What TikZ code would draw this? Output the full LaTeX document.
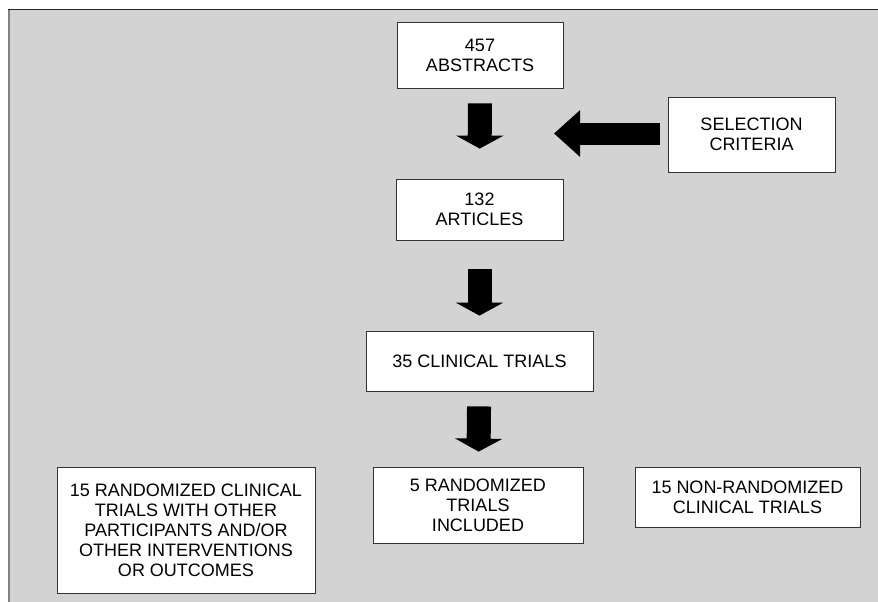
\documentclass[tikz,border=0pt]{standalone}
\usepackage{fontspec}
\setmainfont{Liberation Sans}
\usetikzlibrary{arrows.meta}
\definecolor{bggray}{HTML}{D3D3D3}
\begin{document}
\begin{tikzpicture}[x=1pt,y=-1pt,
	box/.style={draw=black!80,fill=white,line width=.8pt,align=center,inner sep=0pt,font=\fontsize{18}{20}\selectfont},
	downarrow/.style={line width=24pt,-{Triangle[width=47pt,length=13pt]}},
	leftarrow/.style={line width=22pt,-{Triangle[width=45pt,length=26pt]}}]
	\useasboundingbox(0,0)rectangle(878,602);
	\fill[bggray](9,10)rectangle(878,602);
	\draw[black!50,line width=1.2pt](9,602)--(9,10);
	\draw[black!85,line width=1pt](8.4,10)--(878,10);
	\node[box,minimum width=166pt,minimum height=66pt](abs)at(480,55){457\\ABSTRACTS};
	\node[box,minimum width=167pt,minimum height=75pt](sel)at(751.5,134.5){SELECTION\\CRITERIA};
	\node[box,minimum width=167pt,minimum height=61pt](art)at(479.5,209.5){132\\ARTICLES};
	\node[box,minimum width=227pt,minimum height=60pt](ct)at(479.5,361){35 CLINICAL TRIALS};
	\node[box,minimum width=210pt,minimum height=76pt](inc)at(478,505){5 RANDOMIZED\\TRIALS\\INCLUDED};
	\node[box,minimum width=225pt,minimum height=60pt](non)at(747.5,497){15 NON-RANDOMIZED\\CLINICAL TRIALS};
	\node[box,minimum width=258pt,minimum height=126pt](oth)at(186,530){15 RANDOMIZED CLINICAL\\TRIALS WITH OTHER\\PARTICIPANTS AND/OR\\OTHER INTERVENTIONS\\OR OUTCOMES};
	\coordinate(seltip)at(554,133.5);
	\draw[downarrow,shorten <=15pt,shorten >=30pt](abs)--(art);
	\draw[downarrow,shorten <=29pt,shorten >=15pt](art)--(ct);
	\draw[downarrow,shorten <=15pt,shorten >=15pt](ct)--(inc);
	\draw[leftarrow,shorten <=8pt](sel.west|-seltip)--(seltip);
\end{tikzpicture}
\end{document}
